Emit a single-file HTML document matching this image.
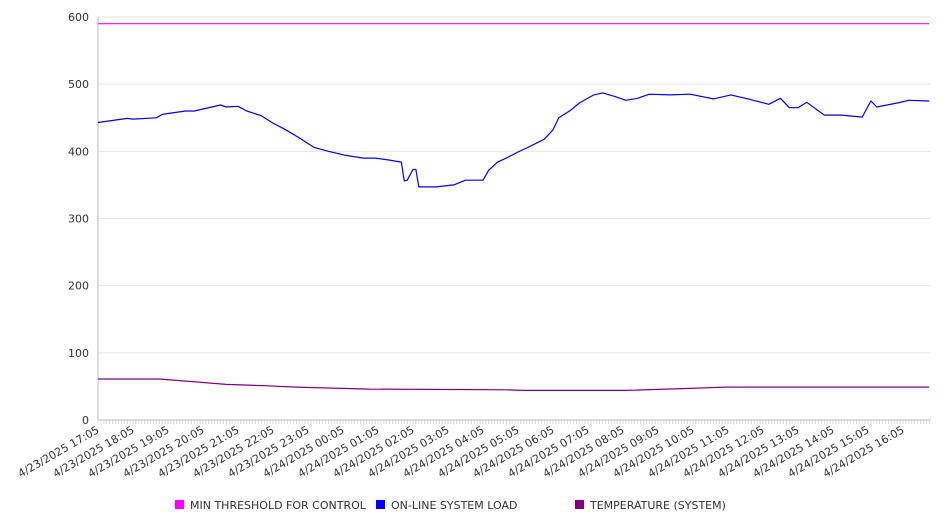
<!DOCTYPE html>
<html><head><meta charset="utf-8"><style>
html,body{margin:0;padding:0;background:#fff;}
svg{display:block;font-family:"DejaVu Sans","Liberation Sans",sans-serif;}
</style></head><body>
<svg id="chart" width="946" height="526" viewBox="0 0 946 526" xmlns="http://www.w3.org/2000/svg">
<g id="grid"></g>
<g id="yaxis"></g>
<g id="xaxis"></g>
<g id="series"></g>
<g id="legend"></g>
</svg>
<script>
const yTicks = [0,100,200,300,400,500,600];
const xTickLabels = ["4/23/2025 17:05","4/23/2025 18:05","4/23/2025 19:05","4/23/2025 20:05","4/23/2025 21:05","4/23/2025 22:05","4/23/2025 23:05","4/24/2025 00:05","4/24/2025 01:05","4/24/2025 02:05","4/24/2025 03:05","4/24/2025 04:05","4/24/2025 05:05","4/24/2025 06:05","4/24/2025 07:05","4/24/2025 08:05","4/24/2025 09:05","4/24/2025 10:05","4/24/2025 11:05","4/24/2025 12:05","4/24/2025 13:05","4/24/2025 14:05","4/24/2025 15:05","4/24/2025 16:05"];
// minutes after 4/23/2025 17:05
const loadMinutes = [0,50,60,100,110,150,165,210,220,240,255,280,300,320,345,370,395,425,455,475,500,520,525,530,540,545,550,580,610,630,660,670,685,700,720,735,765,780,790,810,825,850,865,885,905,925,945,980,1015,1055,1085,1110,1150,1170,1185,1200,1215,1245,1275,1310,1325,1335,1370,1390,1425];
const loadValues = [443,449,448,450,455,460,460,469,466,467,460,453,442,433,420,406,400,394,390,390,387,384,356,357,373,373,347,347,350,357,357,372,384,390,399,405,418,432,450,461,472,484,487,482,476,479,485,484,485,478,484,479,470,479,465,465,473,454,454,451,475,466,472,476,475];
const thresholdMinutes = [0,1425];
const thresholdValues = [590,590];
const tempMinutes = [0,105,220,285,340,465,700,730,765,905,1015,1075,1425];
const tempValues = [61,61,53,51,49,46,45,44,44,44,47,49,49];
const legendNames = ["MIN THRESHOLD FOR CONTROL","ON-LINE SYSTEM LOAD","TEMPERATURE (SYSTEM)"];
const legendColors = ["#ff00ff","#0000ff","#800080"];

const NS="http://www.w3.org/2000/svg";
const L=98,R=931,T=17,B=420,MAXM=1428;
function xs(m){return L+(m/MAXM)*(R-L);}
function ys(v){return B-(v/600)*(B-T);}
function mk(tag,attrs,parent){const e=document.createElementNS(NS,tag);for(const k in attrs)e.setAttribute(k,attrs[k]);parent.appendChild(e);return e;}
const grid=document.getElementById('grid'),ya=document.getElementById('yaxis'),xa=document.getElementById('xaxis'),sg=document.getElementById('series'),lg=document.getElementById('legend');

yTicks.forEach(v=>{
  const g=mk('line',{x1:L,x2:R,y1:ys(v),y2:ys(v),stroke:'#e6e6e6','stroke-width':1},grid);
  
  
  const t=mk('text',{x:89,y:ys(v)+4,'text-anchor':'end','font-size':11,fill:'#333'},ya);
  t.textContent=v;
  
  
});
const ax=mk('line',{x1:L,x2:L,y1:T,y2:B,stroke:'#bbb','stroke-width':1},ya);


const bx=mk('line',{x1:L,x2:R,y1:B,y2:B,stroke:'#bbb','stroke-width':1},xa);


for(let m=0;m<=MAXM;m+=5){
  const tk=mk('line',{x1:xs(m),x2:xs(m),y1:B,y2:B+4,stroke:'#ccc','stroke-width':0.7},xa);
  
  
}
xTickLabels.forEach((s,i)=>{
  const x=xs(i*60)+2,y=B+12;
  const t=mk('text',{x:x,y:y,'text-anchor':'end','font-size':11,fill:'#333',transform:'rotate(-30 '+x+' '+y+')'},xa);
  t.textContent=s;
  
  
});
function line(ms,vs,color,name){
  const d=ms.map((m,i)=>(i?'L':'M')+xs(m).toFixed(1)+' '+ys(vs[i]).toFixed(1)).join(' ');
  const p=mk('path',{d:d,fill:'none',stroke:color,'stroke-width':1.2,'stroke-linejoin':'round'},sg);
  
  
}
line(thresholdMinutes,thresholdValues,legendColors[0],'threshold-line');
line(tempMinutes,tempValues,legendColors[2],'temperature-line');
line(loadMinutes,loadValues,legendColors[1],'load-line');

const lx=[175,376,575];
legendNames.forEach((n,i)=>{
  const r=mk('rect',{x:lx[i],y:500,width:9,height:9,fill:legendColors[i]},lg);
  
  
  const t=mk('text',{x:lx[i]+15,y:509,'font-size':11,fill:'#333'},lg);
  t.textContent=n;
  
  
});
</script>
</body></html>
